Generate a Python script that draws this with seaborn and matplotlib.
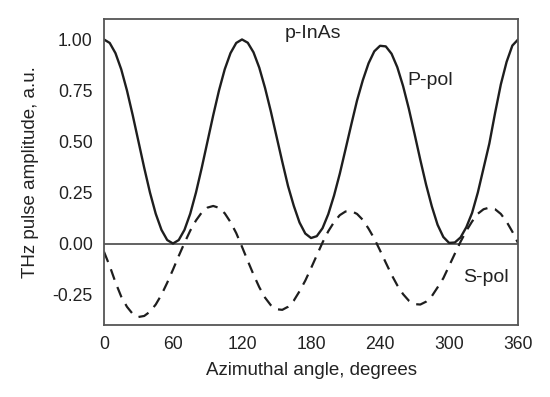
import numpy as np
import pandas as pd
import matplotlib
matplotlib.use("Agg")
import matplotlib.pyplot as plt
import seaborn as sns
from matplotlib.ticker import MultipleLocator

# azimuthal angle, degrees (5 degree steps)
angle = list(range(0, 365, 5))

# P-pol amplitude
p_pol = [1.000, 0.983, 0.933, 0.854, 0.750, 0.629, 0.500, 0.371, 0.250, 0.146,
         0.067, 0.017, 0.000, 0.017, 0.067, 0.146, 0.250, 0.371, 0.500, 0.629,
         0.750, 0.854, 0.933, 0.983, 1.000, 0.984, 0.937, 0.862, 0.763, 0.649,
         0.525, 0.401, 0.282, 0.185, 0.103, 0.049, 0.027, 0.036, 0.075, 0.144,
         0.235, 0.342, 0.462, 0.583, 0.701, 0.800, 0.883, 0.942, 0.969, 0.966,
         0.930, 0.864, 0.772, 0.661, 0.537, 0.410, 0.289, 0.182, 0.092, 0.032,
         0.003, 0.005, 0.030, 0.080, 0.150, 0.250, 0.370, 0.490, 0.640, 0.780,
         0.890, 0.970, 1.000]

# S-pol amplitude
s_pol = [-0.040, -0.110, -0.190, -0.260, -0.310, -0.345, -0.360, -0.355, -0.334, -0.299,
         -0.251, -0.192, -0.128, -0.061, 0.003, 0.063, 0.113, 0.152, 0.176, 0.184,
         0.175, 0.148, 0.105, 0.051, -0.016, -0.085, -0.152, -0.214, -0.265, -0.302,
         -0.322, -0.325, -0.310, -0.280, -0.234, -0.182, -0.121, -0.058, 0.005, 0.060,
         0.105, 0.139, 0.157, 0.159, 0.145, 0.116, 0.073, 0.024, -0.034, -0.094,
         -0.153, -0.205, -0.248, -0.280, -0.297, -0.299, -0.285, -0.258, -0.215, -0.170,
         -0.110, -0.050, 0.009, 0.062, 0.108, 0.146, 0.168, 0.176, 0.168, 0.145,
         0.107, 0.058, 0.002]

df = pd.DataFrame({"angle": angle, "P-pol": p_pol, "S-pol": s_pol})

sns.set_style("white")
plt.rcParams["font.family"] = ["Liberation Sans", "DejaVu Sans"]

fig = plt.figure(figsize=(5.5, 3.97), dpi=100)
ax = fig.add_axes([0.189, 0.181, 0.753, 0.771])

ax.axhline(0, color="#555555", lw=1.3, zorder=1)
sns.lineplot(data=df, x="angle", y="P-pol", ax=ax, color="#1e1e1e", lw=1.7)
sns.lineplot(data=df, x="angle", y="S-pol", ax=ax, color="#1e1e1e", lw=1.6,
             dashes=False, linestyle=(0, (5, 3.5)))

ax.set_xlim(0, 360)
ax.set_ylim(-0.40, 1.10)
ax.xaxis.set_major_locator(MultipleLocator(60))
ax.xaxis.set_minor_locator(MultipleLocator(30))
ax.yaxis.set_major_locator(MultipleLocator(0.25))
ax.yaxis.set_minor_locator(MultipleLocator(0.125))
ax.yaxis.set_major_formatter(plt.FuncFormatter(lambda v, p: f"{v:.2f}"))
ax.tick_params(which="both", direction="in", colors="#555555",
               labelcolor="#222222", labelsize=12.7)
ax.tick_params(which="major", length=5, width=1.2, pad=8)
ax.tick_params(which="minor", length=3.5, width=1.2)
for s in ax.spines.values():
    s.set_color("#555555")
    s.set_linewidth(1.3)

ax.set_xlabel("Azimuthal angle, degrees", fontsize=13.5, color="#222222", labelpad=6)
ax.set_ylabel("THz pulse amplitude, a.u.", fontsize=13.5, color="#222222", labelpad=10)

ax.text(182, 1.03, "p-InAs", ha="center", va="center", fontsize=14, color="#222222")
ax.text(264, 0.80, "P-pol", ha="left", va="center", fontsize=14, color="#222222")
ax.text(312, -0.167, "S-pol", ha="left", va="center", fontsize=14, color="#222222")

fig.savefig("out.png", dpi=100)
